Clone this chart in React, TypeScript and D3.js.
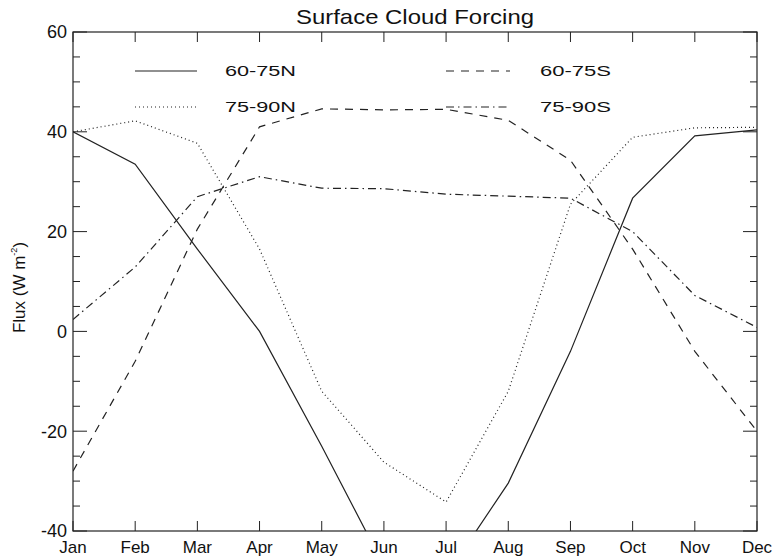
import React from "react";
import { scaleLinear, scalePoint, line, range } from "d3";

const months = ["Jan", "Feb", "Mar", "Apr", "May", "Jun", "Jul", "Aug", "Sep", "Oct", "Nov", "Dec"];

// values (W m-2)
const n60to75 = [40, 33.5, 16.5, 0, -23, -47, -49, -30.4, -4, 26.7, 39.2, 40.4];
const n75to90 = [40, 42.2, 37.7, 16.5, -12, -26.2, -34.2, -12, 25.5, 38.9, 40.8, 40.9];
const s60to75 = [-28, -6, 20.5, 41, 44.6, 44.4, 44.5, 42.3, 34.3, 16.5, -4, -20];
const s75to90 = [2.4, 12.9, 27, 31, 28.7, 28.6, 27.5, 27.1, 26.7, 20, 7.2, 0.8];

const yTickLabels = [-40, -20, 0, 20, 40, 60];

const series = [
  { name: "60-75N", values: n60to75, dash: "none", col: 0, row: 0 },
  { name: "60-75S", values: s60to75, dash: "8 7", col: 1, row: 0 },
  { name: "75-90N", values: n75to90, dash: "1 3", col: 0, row: 1 },
  { name: "75-90S", values: s75to90, dash: "8 4 1.5 4", col: 1, row: 1 },
];

const font = "'Liberation Sans', Arial, Helvetica, sans-serif";

export default function App() {
  const width = 776;
  const height = 557;
  const margin = { top: 32, right: 19, bottom: 26, left: 73 };
  const innerWidth = width - margin.left - margin.right;
  const innerHeight = height - margin.top - margin.bottom;

  const xScale = scalePoint().domain(months).range([0, innerWidth]);
  const yScale = scaleLinear().domain([-40, 60]).range([innerHeight, 0]);

  const path = line()
    .x((d, i) => xScale(months[i]))
    .y((d) => yScale(d));

  const yTicks = range(-40, 61, 5);
  const ink = "#222";

  // legend placement (pixels inside plot area)
  const legendCols = [
    { x0: 62, x1: 124, tx: 152 },
    { x0: 373, x1: 437, tx: 467 },
  ];
  const legendRows = [39, 75];

  return (
    <svg
      width={width}
      height={height}
      style={{ position: "absolute", left: 0, top: 0, background: "white" }}
      fontFamily={font}
    >
      <text x={margin.left + innerWidth / 2} y={24} textAnchor="middle" fontSize={21} textLength={238} lengthAdjust="spacingAndGlyphs" fill="#111">
        Surface Cloud Forcing
      </text>

      <text transform={`translate(25,${margin.top + innerHeight / 2 + 6}) rotate(-90)`} textAnchor="middle" fontSize={17} fill="#111">
        Flux (W m<tspan fontSize={9} dy={-8}>-2</tspan>
        <tspan dy={8}>)</tspan>
      </text>

      <g transform={`translate(${margin.left},${margin.top})`}>
        <defs>
          <clipPath id="plot-clip">
            <rect x={0} y={0} width={innerWidth} height={innerHeight} />
          </clipPath>
        </defs>

        {/* y ticks on both sides, pointing inward */}
        {yTicks.map((v) => {
          const len = v % 20 === 0 ? 14 : 7;
          const y = yScale(v);
          return (
            <g key={v}>
              <line x1={0} x2={len} y1={y} y2={y} stroke={ink} strokeWidth={1} />
              <line x1={innerWidth - len} x2={innerWidth} y1={y} y2={y} stroke={ink} strokeWidth={1} />
            </g>
          );
        })}
        {yTickLabels.map((v) => (
          <text key={v} x={-6} y={yScale(v)} dy="0.36em" textAnchor="end" fontSize={18} fill="#111">
            {v}
          </text>
        ))}

        {/* month ticks top and bottom */}
        {months.map((m) => (
          <g key={m}>
            <line x1={xScale(m)} x2={xScale(m)} y1={innerHeight} y2={innerHeight - 10} stroke={ink} strokeWidth={1} />
            <line x1={xScale(m)} x2={xScale(m)} y1={0} y2={10} stroke={ink} strokeWidth={1} />
            <text x={xScale(m)} y={innerHeight + 22} textAnchor="middle" fontSize={17} fill="#111">
              {m}
            </text>
          </g>
        ))}

        <rect x={0} y={0} width={innerWidth} height={innerHeight} fill="none" stroke={ink} strokeWidth={1.2} />

        <g clipPath="url(#plot-clip)">
          {series.map((s) => (
            <path key={s.name} d={path(s.values)} fill="none" stroke={ink} strokeWidth={1.2} strokeDasharray={s.dash} />
          ))}
        </g>

        {/* legend */}
        {series.map((s) => {
          const c = legendCols[s.col];
          const y = legendRows[s.row];
          return (
            <g key={s.name}>
              <line x1={c.x0} x2={c.x1} y1={y} y2={y} stroke={ink} strokeWidth={1.2} strokeDasharray={s.dash} />
              <text x={c.tx} y={y} dy="0.36em" fontSize={15} textLength={71} lengthAdjust="spacingAndGlyphs" fill="#111">
                {s.name}
              </text>
            </g>
          );
        })}
      </g>
    </svg>
  );
}
